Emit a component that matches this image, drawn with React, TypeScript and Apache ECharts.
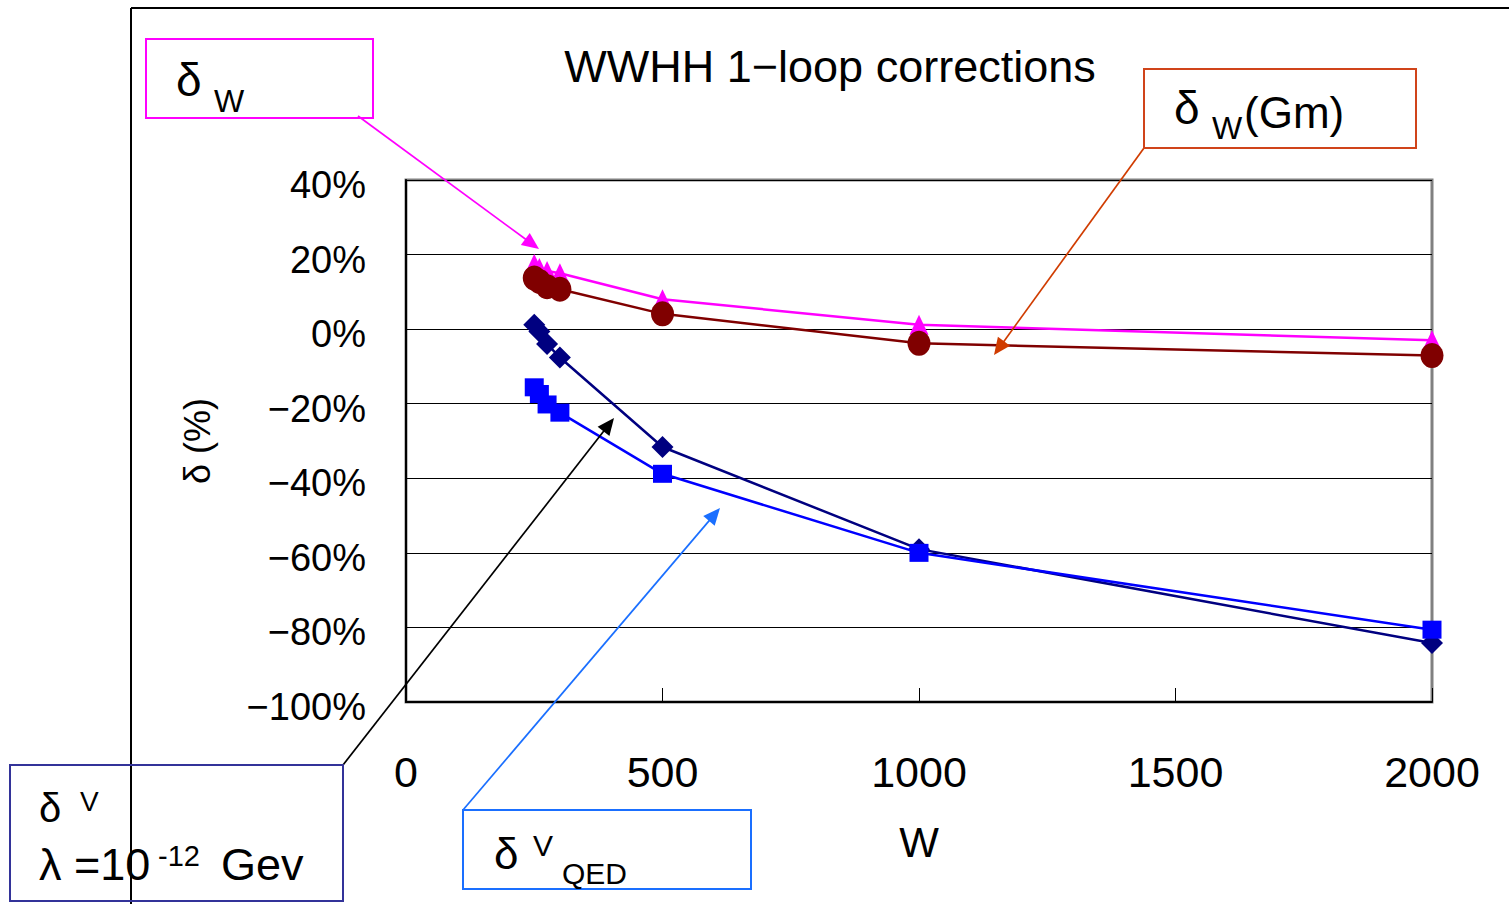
import React, { useEffect, useRef } from "react";
import * as echarts from "echarts";

// W values (x axis)
const W = [250, 260, 275, 300, 500, 1000, 2000];
// corrections in %
const deltaW = [17.5, 16.4, 15.6, 15.0, 8.0, 1.2, -3.0];
const deltaWGm = [13.7, 12.8, 11.4, 10.7, 4.1, -3.8, -7.1];
const deltaV = [1.2, -0.6, -4.0, -7.6, -31.6, -59.0, -84.2];
const deltaVQED = [-15.6, -17.4, -20.2, -22.4, -38.8, -60.0, -80.6];

const X_MIN = 0;
const X_MAX = 2000;
const X_STEP = 500;
const Y_MIN = -100;
const Y_MAX = 40;
const Y_STEP = 20;

const TITLE = "WWHH 1\u2212loop corrections";
const X_NAME = "W";
const Y_NAME = "\u03b4 (%)";

const FONT = "'Liberation Sans', Arial, sans-serif";

function pairs(vals: number[]) {
  return W.map((w, i) => [w, vals[i]]);
}

function arrow(x1: number, y1: number, x2: number, y2: number, color: string, width = 1.7) {
  const dx = x2 - x1;
  const dy = y2 - y1;
  const len = Math.hypot(dx, dy);
  const ux = dx / len;
  const uy = dy / len;
  const L = 17;
  const H = 7.5;
  const bx = x2 - ux * L;
  const by = y2 - uy * L;
  return [
    {
      type: "line",
      shape: { x1, y1, x2: bx + ux * 3, y2: by + uy * 3 },
      style: { stroke: color, lineWidth: width },
      z: 50,
    },
    {
      type: "polygon",
      shape: {
        points: [
          [x2, y2],
          [bx - uy * H, by + ux * H],
          [bx + uy * H, by - ux * H],
        ],
      },
      style: { fill: color },
      z: 50,
    },
  ];
}

function txt(x: number, y: number, text: string, size: number, extra: any = {}) {
  return {
    type: "text",
    x,
    y,
    z: 60,
    style: {
      text,
      font: `${size}px ${FONT}`,
      fill: "#000",
      textAlign: "left",
      textVerticalAlign: "middle",
      ...extra,
    },
  };
}

function box(x: number, y: number, w: number, h: number, color: string, lw = 2) {
  return {
    type: "rect",
    shape: { x, y, width: w, height: h },
    style: { fill: "none", stroke: color, lineWidth: lw },
    z: 55,
  };
}

export default function App() {
  const ref = useRef<HTMLDivElement>(null);

  useEffect(() => {
    if (!ref.current) return;
    const chart = echarts.init(ref.current, undefined, { renderer: "svg" });

    const fmtY = (v: number) => `${v < 0 ? "\u2212" + Math.abs(v) : v}%`;
    const fmtX = (v: number) => String(v);

    const option: any = {
      animation: false,
      backgroundColor: "#fff",
      title: {
        text: TITLE,
        left: 825,
        top: 39,
        textAlign: "center",
        textStyle: { fontFamily: FONT, fontSize: 45, fontWeight: "normal", color: "#000" },
      },
      grid: {
        left: 406,
        top: 180,
        width: 1026,
        height: 522,
        show: true,
        borderColor: "#808080",
        borderWidth: 3,
        backgroundColor: "transparent",
      },
      xAxis: {
        type: "value",
        min: X_MIN,
        max: X_MAX,
        interval: X_STEP,
        name: X_NAME,
        nameLocation: "middle",
        nameGap: 119,
        nameTextStyle: { fontFamily: FONT, fontSize: 42, color: "#000" },
        axisLine: { show: true, onZero: false, lineStyle: { color: "#000", width: 2 } },
        axisTick: { show: true, inside: true, length: 14, lineStyle: { color: "#000", width: 1 } },
        axisLabel: { fontFamily: FONT, fontSize: 43, color: "#000", margin: 48, formatter: fmtX },
        splitLine: { show: false },
      },
      yAxis: {
        type: "value",
        min: Y_MIN,
        max: Y_MAX,
        interval: Y_STEP,
        name: Y_NAME,
        nameLocation: "middle",
        nameRotate: 90,
        nameGap: 191,
        nameTextStyle: { fontFamily: FONT, fontSize: 36, color: "#000" },
        axisLine: { show: true, onZero: false, lineStyle: { color: "#000", width: 2 } },
        axisTick: { show: false },
        axisLabel: {
          fontFamily: FONT,
          fontSize: 38,
          color: "#000",
          margin: 40,
          formatter: fmtY,
          verticalAlign: "top",
          lineHeight: 10,
        },
        splitLine: { show: true, lineStyle: { color: "#000", width: 1 } },
      },
      series: [
        {
          name: "\u03b4W",
          type: "line",
          data: pairs(deltaW),
          symbol: "triangle",
          symbolSize: [19, 20],
          lineStyle: { color: "#ff00ff", width: 2.5 },
          itemStyle: { color: "#ff00ff" },
          z: 3,
        },
        {
          name: "\u03b4W(Gm)",
          type: "line",
          data: pairs(deltaWGm),
          symbol: "circle",
          symbolSize: [23, 25],
          lineStyle: { color: "#800000", width: 2.5 },
          itemStyle: { color: "#800000" },
          z: 4,
        },
        {
          name: "\u03b4V",
          type: "line",
          data: pairs(deltaV),
          symbol: "diamond",
          symbolSize: [22, 22],
          lineStyle: { color: "#000080", width: 2.5 },
          itemStyle: { color: "#000080" },
          z: 5,
        },
        {
          name: "\u03b4V QED",
          type: "line",
          data: pairs(deltaVQED),
          symbol: "rect",
          symbolSize: [19, 18],
          lineStyle: { color: "#0000ff", width: 2.5 },
          itemStyle: { color: "#0000ff" },
          z: 6,
        },
      ],
      graphic: [
        // outer frame
        { type: "line", shape: { x1: 131, y1: 8, x2: 1509, y2: 8 }, style: { stroke: "#000", lineWidth: 2 }, z: 40 },
        { type: "line", shape: { x1: 131, y1: 8, x2: 131, y2: 904 }, style: { stroke: "#000", lineWidth: 2 }, z: 40 },
        // box 1: delta_W
        box(146, 39, 227, 79, "#ff00ff"),
        txt(176, 80, "\u03b4", 46),
        txt(214, 101, "W", 32),
        ...arrow(358, 116, 539, 249, "#ff00ff"),
        // box 2: delta_W(Gm)
        box(1144, 69, 272, 79, "#d0441a"),
        txt(1174, 108, "\u03b4", 46),
        txt(1212, 128, "W", 32),
        txt(1244, 112, "(Gm)", 44),
        ...arrow(1144, 148, 994, 355, "#d03c00"),
        // box 3: delta^V lambda
        box(10, 765, 333, 136, "#333399"),
        txt(39, 808, "\u03b4", 40),
        txt(80, 801, "V", 28),
        txt(39, 864, "\u03bb =10", 45),
        txt(158, 856, "-12", 29),
        txt(221, 864, "Gev", 45),
        ...arrow(343, 765, 614, 418, "#000"),
        // box 4: delta^V_QED
        box(463, 810, 288, 79, "#1a6fff"),
        txt(494, 853, "\u03b4", 44),
        txt(533, 845, "V", 30),
        txt(562, 873, "QED", 30),
        ...arrow(463, 810, 720, 508, "#1a6fff"),
      ],
    };

    chart.setOption(option);
    return () => chart.dispose();
  }, []);

  return (
    <div
      ref={ref}
      style={{ position: "absolute", left: 0, top: 0, width: 1509, height: 904, background: "#fff" }}
    />
  );
}
